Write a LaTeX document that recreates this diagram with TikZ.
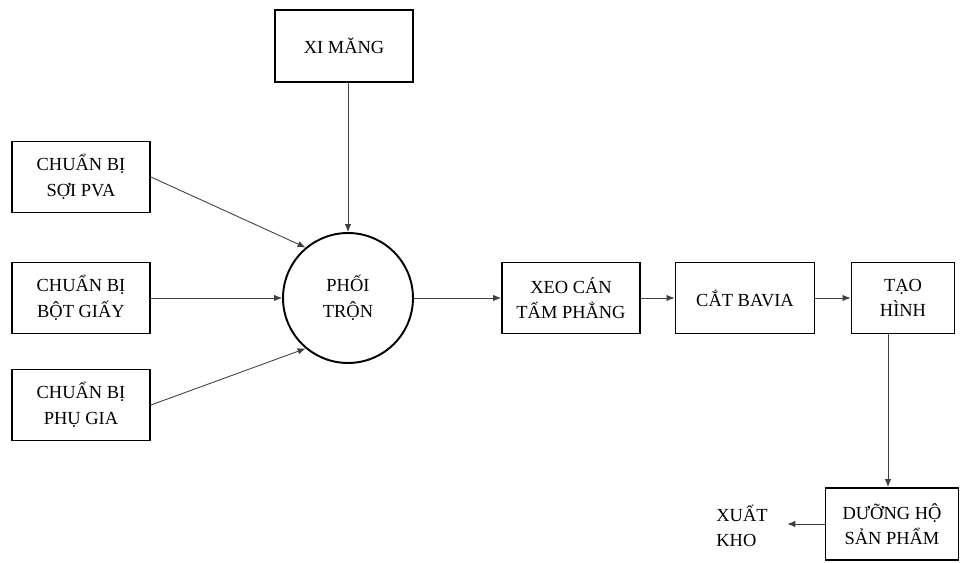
\documentclass[tikz,border=0pt]{standalone}
\usepackage{fontspec}
\setmainfont{Liberation Serif}
\usetikzlibrary{positioning,arrows.meta}

\begin{document}
\begin{tikzpicture}[x=0.02cm, y=-0.02cm, font=\fontsize{10.5}{14.5}\selectfont,
    box/.style={draw, line width=1.1pt, align=center, inner sep=2pt},
    flow/.style={-{Latex[length=1.6mm, width=1.3mm]}, line width=0.5pt, black!75}]
  \useasboundingbox (0,0) rectangle (961,563);
  % inputs
  \node[box, minimum width=2.76cm, minimum height=1.44cm] (xm) at (344,46) {XI MĂNG};
  \node[box, minimum width=2.76cm, minimum height=1.42cm] (s1) at (81,177) {CHUẨN BỊ\\SỢI PVA};
  \node[box, minimum width=2.76cm, minimum height=1.42cm] (s2) at (81,298) {CHUẨN BỊ\\BỘT GIẤY};
  \node[box, minimum width=2.76cm, minimum height=1.42cm] (s3) at (81,405) {CHUẨN BỊ\\PHỤ GIA};
  \node[draw, circle, line width=1.1pt, minimum size=2.6cm, align=center] (mix) at (348,298) {PHỐI\\TRỘN};
  % main line
  \node[box, minimum width=2.76cm, minimum height=1.42cm] (xeo) at (571,298) {XEO CÁN\\TẤM PHẲNG};
  \node[box, minimum width=2.78cm, minimum height=1.42cm] (cat) at (745,298) {CẮT BAVIA};
  \node[box, minimum width=2.06cm, minimum height=1.42cm] (tao) at (903,298) {TẠO\\HÌNH};
  \node[box, minimum width=2.66cm, minimum height=1.44cm] (duong) at (892,524) {DƯỠNG HỘ\\SẢN PHẨM};
  \node[align=left, inner sep=1pt] (kho) at (742,526) {XUẤT\\KHO};
  \coordinate (down) at ([xshift=-0.3cm]tao.south);
  \draw[flow] (xm.south -| mix.north) -- (mix.north);
  \draw[flow] (s1.east) -- (mix.130);
  \draw[flow] (s2.east) -- (mix.west);
  \draw[flow] (s3.east) -- (mix.230);
  \draw[flow] (mix.east) -- (xeo.west);
  \draw[flow] (xeo) -- (cat);
  \draw[flow] (cat) -- (tao);
  \draw[flow] (down) -- (down |- duong.north);
  \draw[flow] (duong.west) -- ([xshift=10pt]kho.east |- duong.west);
\end{tikzpicture}
\end{document}
